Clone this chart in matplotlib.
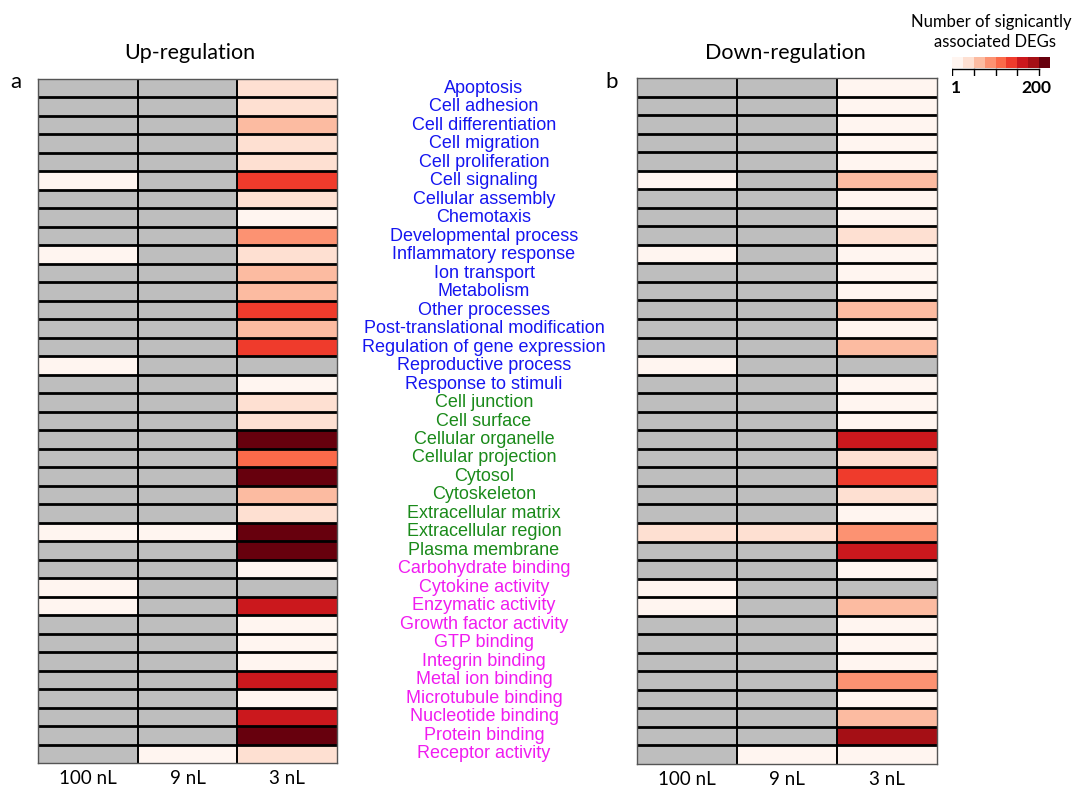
import numpy as np
import matplotlib
matplotlib.use("Agg")
import matplotlib.pyplot as plt
from matplotlib.colors import ListedColormap, BoundaryNorm

# GO categories (top to bottom) and label groups
terms = [
    "Apoptosis", "Cell adhesion", "Cell differentiation", "Cell migration",
    "Cell proliferation", "Cell signaling", "Cellular assembly", "Chemotaxis",
    "Developmental process", "Inflammatory response", "Ion transport",
    "Metabolism", "Other processes", "Post-translational modification",
    "Regulation of gene expression", "Reproductive process",
    "Response to stimuli",
    "Cell junction", "Cell surface", "Cellular organelle",
    "Cellular projection", "Cytosol", "Cytoskeleton", "Extracellular matrix",
    "Extracellular region", "Plasma membrane",
    "Carbohydrate binding", "Cytokine activity", "Enzymatic activity",
    "Growth factor activity", "GTP binding", "Integrin binding",
    "Metal ion binding", "Microtubule binding", "Nucleotide binding",
    "Protein binding", "Receptor activity",
]
groups = ["process"] * 17 + ["component"] * 9 + ["function"] * 11
group_colors = {"process": "#1515f0", "component": "#1a8a1a", "function": "#f01cf0"}

doses = ["100 nL", "9 nL", "3 nL"]

# colour class (1..9 on the 1-200 scale), nan = not associated (grey)
n = np.nan
up_100 = [n, n, n, n, n, 1, n, n, n, 1, n, n, n, n, n, 1, n, n, n, n, n, n, n, n, 1, n, n, 1, 1, n, n, n, n, n, n, n, n]
up_9   = [n, n, n, n, n, n, n, n, n, n, n, n, n, n, n, n, n, n, n, n, n, n, n, n, 1, n, n, n, n, n, n, n, n, n, n, n, 1]
up_3   = [2, 2, 3, 2, 2, 6, 2, 1, 4, 2, 3, 3, 6, 3, 6, n, 1, 2, 2, 9, 5, 9, 3, 2, 9, 9, 1, n, 7, 1, 1, 1, 7, 1, 7, 9, 2]

down_100 = [n, n, n, n, n, 1, n, n, n, 1, n, n, n, n, n, 1, n, n, n, n, n, n, n, n, 2, n, n, 1, 1, n, n, n, n, n, n, n, n]
down_9   = [n, n, n, n, n, n, n, n, n, n, n, n, n, n, n, n, n, n, n, n, n, n, n, n, 2, n, n, n, n, n, n, n, n, n, n, n, 1]
down_3   = [1, 1, 1, 1, 1, 3, 1, 1, 2, 1, 1, 1, 3, 1, 3, n, 1, 1, 1, 7, 2, 6, 2, 1, 4, 7, 1, n, 3, 1, 1, 1, 4, 1, 3, 8, 1]

reds9 = ["#fff5f0", "#fee0d2", "#fcbba1", "#fc9272", "#fb6a4a",
         "#ef3b2c", "#cb181d", "#a50f15", "#67000d"]
cmap = ListedColormap(reds9)
cmap.set_bad("#bebebe")
norm = BoundaryNorm(np.arange(0.5, 10.5, 1), cmap.N)

W, H = 1072, 790
fig = plt.figure(figsize=(W / 100, H / 100), dpi=100)


def px_axes(x0, y0, x1, y1):
    return fig.add_axes([x0 / W, 1 - y1 / H, (x1 - x0) / W, (y1 - y0) / H])


def draw_panel(ax, cols):
    data = np.ma.masked_invalid(np.array(cols, dtype=float).T)
    nr, nc = data.shape
    ax.pcolormesh(data, cmap=cmap, norm=norm, edgecolors="none")
    ax.set_facecolor("#bebebe")
    ax.hlines(np.arange(1, nr), 0, nc, colors="black", lw=2.0)
    ax.vlines(np.arange(1, nc), 0, nr, colors="black", lw=1.4)
    ax.set_xlim(0, nc)
    ax.set_ylim(nr, 0)
    ax.set_xticks(np.arange(nc) + 0.5)
    ax.set_xticklabels(doses, fontsize=13.5, family="Lato")
    ax.tick_params(axis="x", length=0, pad=5)
    ax.set_yticks([])
    for s in ax.spines.values():
        s.set_color("#555555")
        s.set_linewidth(1.0)


ax_up = px_axes(38, 79, 337, 763)
draw_panel(ax_up, [up_100, up_9, up_3])
ax_dn = px_axes(637, 78, 937, 764)
draw_panel(ax_dn, [down_100, down_9, down_3])

# panel titles and letters
fig.text(190 / W, 1 - 53 / H, "Up-regulation", ha="center", va="center",
         fontsize=15.5, family="Lato")
fig.text(785 / W, 1 - 53 / H, "Down-regulation", ha="center", va="center",
         fontsize=15.5, family="Lato")
fig.text(16 / W, 1 - 82 / H, "a", ha="center", va="center", fontsize=16, family="Lato")
fig.text(612 / W, 1 - 82 / H, "b", ha="center", va="center", fontsize=16, family="Lato")

# category labels between the panels
for i, (t, g) in enumerate(zip(terms, groups)):
    ax_up.annotate(t, xy=(0, i + 0.5), xycoords=("axes fraction", "data"),
                   xytext=(484 / W, 0), textcoords=("figure fraction", "offset points"),
                   ha="center", va="center", fontsize=13, family="Liberation Sans",
                   color=group_colors[g], annotation_clip=False)

# colour scale legend
ax_leg = px_axes(952, 57, 1050, 76)
ax_leg.imshow(np.arange(9)[None, :], cmap=cmap, aspect="auto",
              extent=(0, 9, 0, 1))
ax_leg.set_xlim(0, 9)
ax_leg.set_ylim(-0.75, 1)
ax_leg.plot([0, 8], [-0.1, -0.1], color="black", lw=1.0)
for xt in range(0, 9, 2):
    ax_leg.plot([xt, xt], [-0.1, -0.65], color="black", lw=1.0)
ax_leg.axis("off")
fig.text(991 / W, 1 - 22 / H, "Number of signicantly", ha="center", va="center",
         fontsize=12, family="Lato")
fig.text(995 / W, 1 - 42 / H, "associated DEGs", ha="center", va="center",
         fontsize=12, family="Lato")
fig.text(956 / W, 1 - 88 / H, "1", ha="center", va="center", fontsize=12.5,
         family="Lato", weight="bold")
fig.text(1051 / W, 1 - 88 / H, "200", ha="right", va="center", fontsize=12.5,
         family="Lato", weight="bold")

fig.savefig("out.png", dpi=100, facecolor="white")
